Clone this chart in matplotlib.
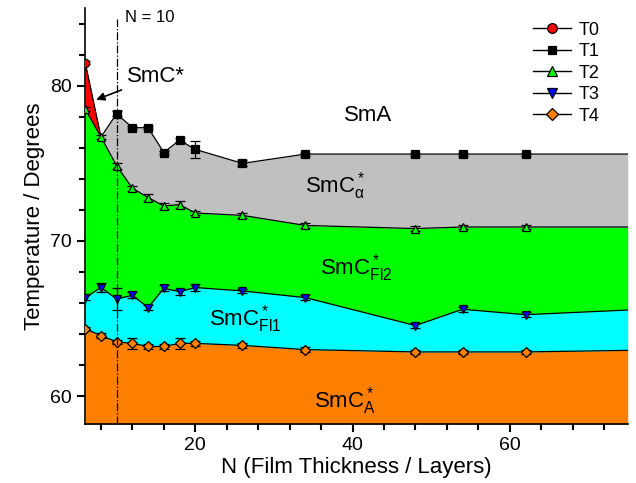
import numpy as np
import matplotlib.pyplot as plt

plt.rcParams['font.family'] = ['Liberation Sans', 'DejaVu Sans']
plt.rcParams['mathtext.fontset'] = 'custom'
plt.rcParams['mathtext.rm'] = 'Liberation Sans'
plt.rcParams['mathtext.it'] = 'Liberation Sans:italic'

# film thickness (layers) and transition temperatures
N0 = [6]
T0 = [81.5]

N1 = [10, 12, 14, 16, 18, 20, 26, 34, 48, 54, 62]
T1 = [78.2, 77.3, 77.3, 75.7, 76.5, 75.9, 75.0, 75.6, 75.6, 75.6, 75.6]
T1_err = [0.15, 0.1, 0.1, 0.1, 0.15, 0.55, 0.2, 0.1, 0.1, 0.1, 0.1]

N = [6, 8, 10, 12, 14, 16, 18, 20, 26, 34, 48, 54, 62]
T2 = [78.5, 76.7, 74.85, 73.4, 72.8, 72.25, 72.35, 71.8, 71.65, 71.0, 70.8, 70.9, 70.9]
T2_err = [0.15, 0.15, 0.2, 0.15, 0.2, 0.2, 0.2, 0.15, 0.15, 0.15, 0.15, 0.15, 0.15]
T3 = [66.35, 67.0, 66.26, 66.5, 65.7, 66.95, 66.73, 67.0, 66.78, 66.35, 64.55, 65.6, 65.25]
T3_err = [0.15, 0.3, 0.7, 0.2, 0.15, 0.2, 0.2, 0.25, 0.15, 0.15, 0.15, 0.15, 0.15]
T4 = [64.35, 63.9, 63.5, 63.4, 63.2, 63.2, 63.4, 63.4, 63.27, 63.0, 62.85, 62.85, 62.85]
T4_err = [0.1, 0.15, 0.15, 0.35, 0.15, 0.15, 0.35, 0.15, 0.15, 0.15, 0.15, 0.15, 0.15]

# boundary values at the right edge of the plot
N_edge = 75
T1_edge, T2_edge, T3_edge, T4_edge = 75.6, 70.9, 65.55, 62.95

X_MIN, X_MAX = 6, 75
Y_MIN, Y_MAX = 58.2, 85


def main():
    fig = plt.figure(figsize=(6.36, 4.83), dpi=100)
    ax = fig.add_axes([0.134, 0.122, 0.853, 0.861])

    n = np.array(N + [N_edge], dtype=float)
    t2 = np.array(T2 + [T2_edge])
    t3 = np.array(T3 + [T3_edge])
    t4 = np.array(T4 + [T4_edge])
    # T0 and T1 both start from the triple point at N = 8 on T2
    n1 = np.array([N[1]] + N1 + [N_edge], dtype=float)
    t1 = np.array([T2[1]] + T1 + [T1_edge])
    n0 = np.array(N0 + [N[1]], dtype=float)
    t0 = np.array(T0 + [T2[1]])

    # phase regions
    ax.fill_between(n, Y_MIN, t4, color='#ff8000', lw=0)
    ax.fill_between(n, t4, t3, color='#00ffff', lw=0)
    ax.fill_between(n, t3, t2, color='#00ff00', lw=0)
    ax.fill_between(n1, t2[1:], t1, color='#c0c0c0', lw=0)
    ax.fill_between(n0, T2[:2], t0, color='#ff0000', lw=0)

    # boundary lines (to the edge)
    for xs, ys in [(n, t2), (n, t3), (n, t4), (n1, t1), (n0, t0)]:
        ax.plot(xs, ys, color='k', lw=0.9, zorder=3)

    ekw = dict(ecolor='k', elinewidth=0.9, capsize=3.5, capthick=0.9, ls='none',
               mec='k', mew=0.9, zorder=4)
    ax.errorbar(N0, T0, yerr=0.1, marker='o', mfc='#ff0000', ms=6, **ekw)
    ax.errorbar(N1, T1, yerr=T1_err, marker='s', mfc='k', ms=6, **ekw)
    ax.errorbar(N, T2, yerr=T2_err, marker='^', mfc='#00ff00', ms=6, **ekw)
    ax.errorbar(N, T3, yerr=T3_err, marker='v', mfc='#0000ff', ms=6, **ekw)
    ax.errorbar(N, T4, yerr=T4_err, marker='D', mfc='#ff8000', ms=5, **ekw)

    # legend entries
    lkw = dict(color='k', lw=1, mec='k', mew=0.9)
    hs = [ax.plot([], [], marker='o', mfc='#ff0000', ms=7, **lkw)[0],
          ax.plot([], [], marker='s', mfc='k', ms=6, **lkw)[0],
          ax.plot([], [], marker='^', mfc='#00ff00', ms=7, **lkw)[0],
          ax.plot([], [], marker='v', mfc='#0000ff', ms=7, **lkw)[0],
          ax.plot([], [], marker='D', mfc='#ff8000', ms=6, **lkw)[0]]
    ax.legend(hs, ['T0', 'T1', 'T2', 'T3', 'T4'], loc='upper right',
              bbox_to_anchor=(0.978, 1.007), frameon=False, fontsize=13,
              handlelength=2.1, handletextpad=0.4, labelspacing=0.25)

    # N = 10 marker line
    ax.plot([10, 10], [Y_MIN, 84.3], color='k', lw=0.9, ls='-.', zorder=5)
    ax.text(11.0, 84.4, 'N = 10', fontsize=12, va='center', ha='left')

    # phase labels
    fs = 16
    ax.annotate('SmC*', xy=(7.4, 79.1), xytext=(11.3, 80.6), fontsize=fs,
                va='center', ha='left',
                arrowprops=dict(arrowstyle='-|>', color='k', lw=1.2,
                                mutation_scale=12, shrinkA=2, shrinkB=0))
    ax.text(42, 78.1, 'SmA', fontsize=fs, ha='center', va='center')
    ax.text(33.9, 73.1, r'SmC$^*_{\mathrm{α}}$', fontsize=fs, ha='left', va='baseline')
    ax.text(35.85, 67.82, r'SmC$^*_{\mathrm{Fl2}}$', fontsize=fs, ha='left', va='baseline')
    ax.text(21.7, 64.57, r'SmC$^*_{\mathrm{Fl1}}$', fontsize=fs, ha='left', va='baseline')
    ax.text(35.1, 59.25, r'SmC$^*_{\mathrm{A}}$', fontsize=fs, ha='left', va='baseline')

    ax.set_xlim(X_MIN, X_MAX)
    ax.set_ylim(Y_MIN, Y_MAX)
    ax.set_xticks([20, 40, 60])
    ax.set_xticks(np.arange(8, 76, 4), minor=True)
    ax.set_yticks([60, 70, 80])
    ax.set_yticks(np.arange(60, 86, 2), minor=True)
    ax.spines['top'].set_visible(False)
    ax.spines['right'].set_visible(False)
    ax.spines['left'].set_linewidth(1.2)
    ax.spines['bottom'].set_linewidth(1.2)
    ax.tick_params(which='both', direction='out', width=1.5, labelsize=14)
    ax.tick_params(which='major', length=6)
    ax.tick_params(which='minor', length=4)
    ax.set_xlabel('N (Film Thickness / Layers)', fontsize=16, labelpad=2)
    ax.set_ylabel('Temperature / Degrees', fontsize=16, labelpad=4)

    fig.savefig('out.png', dpi=100)


if __name__ == '__main__':
    main()
